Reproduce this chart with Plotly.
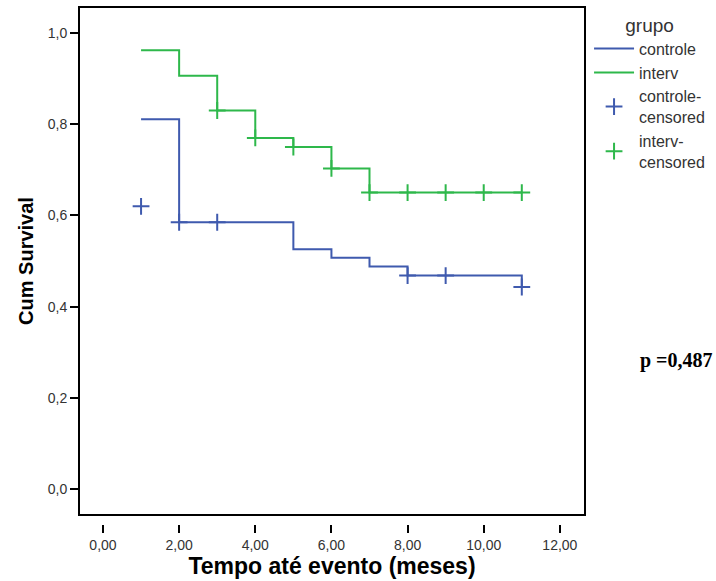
import plotly.graph_objects as go

# Kaplan-Meier step data
controle_t = [1, 2, 3, 5, 6, 7, 8, 9, 11]
controle_s = [0.811, 0.585, 0.585, 0.526, 0.507, 0.488, 0.468, 0.468, 0.443]
interv_t = [1, 2, 3, 4, 5, 6, 7, 11]
interv_s = [0.962, 0.906, 0.830, 0.770, 0.750, 0.703, 0.650, 0.650]

controle_cens_t = [1, 2, 3, 8, 9, 11]
controle_cens_s = [0.620, 0.585, 0.585, 0.468, 0.468, 0.443]
interv_cens_t = [3, 4, 5, 6, 7, 8, 9, 10, 11]
interv_cens_s = [0.830, 0.770, 0.750, 0.703, 0.650, 0.650, 0.650, 0.650, 0.650]

x_ticks = [0, 2, 4, 6, 8, 10, 12]
x_ticktext = ["0,00", "2,00", "4,00", "6,00", "8,00", "10,00", "12,00"]
y_ticks = [0.0, 0.2, 0.4, 0.6, 0.8, 1.0]
y_ticktext = ["0,0", "0,2", "0,4", "0,6", "0,8", "1,0"]

BLUE = "#3F5AAE"
GREEN = "#2EB84B"
TICKCOL = "#333333"

fig = go.Figure()
fig.add_trace(go.Scatter(x=controle_t, y=controle_s, mode="lines", line_shape="hv",
                         line=dict(color=BLUE, width=2), name="controle"))
fig.add_trace(go.Scatter(x=interv_t, y=interv_s, mode="lines", line_shape="hv",
                         line=dict(color=GREEN, width=2), name="interv"))
fig.add_trace(go.Scatter(x=controle_cens_t, y=controle_cens_s, mode="markers",
                         marker=dict(symbol="cross-thin", size=12, color=BLUE,
                                     line=dict(color=BLUE, width=2)),
                         name="controle-<br>censored"))
fig.add_trace(go.Scatter(x=interv_cens_t, y=interv_cens_s, mode="markers",
                         marker=dict(symbol="cross-thin", size=12, color=GREEN,
                                     line=dict(color=GREEN, width=2)),
                         name="interv-<br>censored"))

ydom0 = 9 / 517

fig.update_layout(
    width=716, height=581,
    margin=dict(l=79, r=131, t=7, b=57, autoexpand=False),
    paper_bgcolor="white", plot_bgcolor="white",
    font=dict(family="Liberation Sans, Arial, sans-serif", color=TICKCOL, size=14),
    xaxis=dict(range=[-0.63, 12.66], tickvals=x_ticks, ticktext=x_ticktext,
               showgrid=False, zeroline=False, showline=False,
               ticks="outside", ticklen=8, tickwidth=2, tickcolor="black",
               anchor="free", position=0, automargin=False,
               tickfont=dict(size=14, color=TICKCOL),
               title=dict(text="<b>Tempo até evento (meses)</b>", standoff=5,
                          font=dict(family="Liberation Sans, Arial, sans-serif",
                                    size=23, color="black"))),
    yaxis=dict(range=[-0.057, 1.057], domain=[ydom0, 1], tickvals=y_ticks, ticktext=y_ticktext,
               showgrid=False, zeroline=False, showline=False, automargin=False,
               ticks="outside", ticklen=8, tickwidth=2, tickcolor="black",
               tickfont=dict(size=14, color=TICKCOL),
               title=dict(text="<b>Cum Survival</b>", standoff=8,
                          font=dict(family="Liberation Sans, Arial, sans-serif",
                                    size=20, color="black"))),
    legend=dict(x=1.008, xanchor="left", y=1.0, yanchor="top",
                bgcolor="rgba(0,0,0,0)", font=dict(size=16, color=TICKCOL),
                title=dict(text="grupo", side="top center", font=dict(size=19, color=TICKCOL)),
                tracegroupgap=0, itemwidth=40),
    showlegend=True,
)

fig.add_shape(type="rect", xref="x domain", yref="y domain", x0=0, x1=1, y0=0, y1=1,
              line=dict(color="black", width=2), layer="above")

fig.add_annotation(text="<b>p =0,487</b>", xref="paper", yref="paper",
                   x=1.18, xanchor="center", y=0.317, yanchor="middle",
                   showarrow=False,
                   font=dict(family="Liberation Serif, Times New Roman, serif", size=20, color="black"))

fig.write_html("out.html", config={"displayModeBar": False},
               post_script="document.body.style.margin='0';document.body.style.overflow='hidden';")
